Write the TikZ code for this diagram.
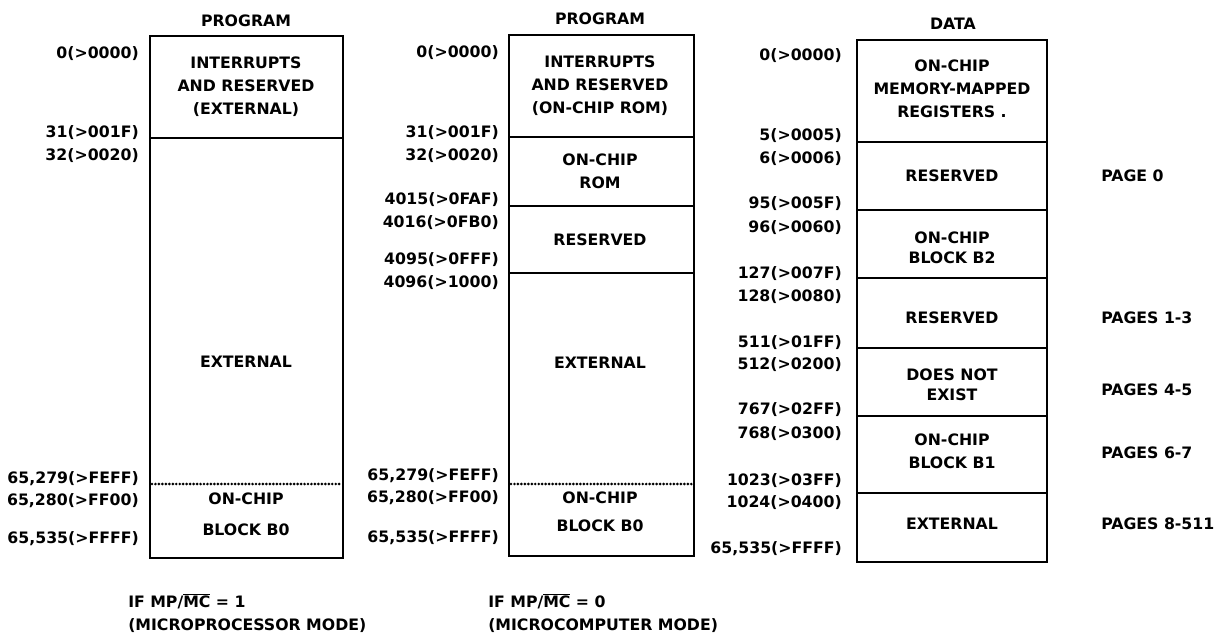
\documentclass[tikz,border=0pt]{standalone}
\usepackage{fontspec}
\setmainfont{DejaVu Sans}
\begin{document}
\begin{tikzpicture}[x=0.75pt,y=-0.75pt,
  lbl/.style={font=\bfseries\fontsize{11.8}{17.2}\selectfont, inner sep=0pt},
  addr/.style={lbl, anchor=east, text height=8.6pt, text depth=0pt},
  page/.style={lbl, anchor=west, text height=8.6pt, text depth=0pt},
  title/.style={lbl, text height=8.6pt, text depth=0pt},
  reg/.style={lbl, align=center},
  membox/.style={line width=2.2pt},
  divider/.style={line width=2.1pt},
  dotline/.style={line width=2.2pt, line cap=round, dash pattern=on 0pt off 2.6pt}]
\useasboundingbox (0,0) rectangle (1223,635);

% ---------------- Column 1 : PROGRAM (microprocessor mode)
\node[title] (t1) at (246,21) {PROGRAM};
\draw[membox] (150,36) rectangle (343,558);
\draw[divider] (150,138) -- (343,138);
\draw[dotline] (152,484) -- (341,484);
\node[addr] (a1a) at (139,53)  {0(>0000)};
\node[addr] (a1b) at (139,132) {31(>001F)};
\node[addr] (a1c) at (139,155) {32(>0020)};
\node[addr] (a1d) at (139,478) {65,279(>FEFF)};
\node[addr] (a1e) at (139,500) {65,280(>FF00)};
\node[addr] (a1f) at (139,538) {65,535(>FFFF)};
\node[reg] (r1a) at (246,87)  {INTERRUPTS\\AND RESERVED\\(EXTERNAL)};
\node[reg] (r1b) at (246,362) {EXTERNAL};
\node[reg] (r1c) at (246,514) {ON-CHIP\\[6pt]BLOCK B0};
\node[lbl, anchor=west, align=left] (f1) at (128,613)
  {IF MP/$\overline{\hbox{MC}}$ = 1\\(MICROPROCESSOR MODE)};

% ---------------- Column 2 : PROGRAM (microcomputer mode)
\node[title] (t2) at (600,19) {PROGRAM};
\draw[membox] (509,35) rectangle (694,556);
\draw[divider] (509,137) -- (694,137);
\draw[divider] (509,206) -- (694,206);
\draw[divider] (509,273) -- (694,273);
\draw[dotline] (511,484) -- (692,484);
\node[addr] (a2a) at (499,52)  {0(>0000)};
\node[addr] (a2b) at (499,132) {31(>001F)};
\node[addr] (a2c) at (499,155) {32(>0020)};
\node[addr] (a2d) at (499,199) {4015(>0FAF)};
\node[addr] (a2e) at (499,222) {4016(>0FB0)};
\node[addr] (a2f) at (499,259) {4095(>0FFF)};
\node[addr] (a2g) at (499,282) {4096(>1000)};
\node[addr] (a2h) at (499,475) {65,279(>FEFF)};
\node[addr] (a2i) at (499,497) {65,280(>FF00)};
\node[addr] (a2j) at (499,537) {65,535(>FFFF)};
\node[reg] (r2a) at (600,86)  {INTERRUPTS\\AND RESERVED\\(ON-CHIP ROM)};
\node[reg] (r2b) at (600,171) {ON-CHIP\\ROM};
\node[reg] (r2c) at (600,240) {RESERVED};
\node[reg] (r2d) at (600,363) {EXTERNAL};
\node[reg] (r2e) at (600,512) {ON-CHIP\\[4pt]BLOCK B0};
\node[lbl, anchor=west, align=left] (f2) at (488,613)
  {IF MP/$\overline{\hbox{MC}}$ = 0\\(MICROCOMPUTER MODE)};

% ---------------- Column 3 : DATA
\node[title] (t3) at (953,24) {DATA};
\draw[membox] (857,40) rectangle (1047,562);
\foreach \yy in {142,210,278,348,416,493}
  \draw[divider] (857,\yy) -- (1047,\yy);
\node[addr] (a3a) at (842,55)  {0(>0000)};
\node[addr] (a3b) at (842,135) {5(>0005)};
\node[addr] (a3c) at (842,158) {6(>0006)};
\node[addr] (a3d) at (842,203) {95(>005F)};
\node[addr] (a3e) at (842,227) {96(>0060)};
\node[addr] (a3f) at (842,273) {127(>007F)};
\node[addr] (a3g) at (842,296) {128(>0080)};
\node[addr] (a3h) at (842,342) {511(>01FF)};
\node[addr] (a3i) at (842,364) {512(>0200)};
\node[addr] (a3j) at (842,409) {767(>02FF)};
\node[addr] (a3k) at (842,433) {768(>0300)};
\node[addr] (a3l) at (842,480) {1023(>03FF)};
\node[addr] (a3m) at (842,502) {1024(>0400)};
\node[addr] (a3n) at (842,548) {65,535(>FFFF)};
\node[reg] (r3a) at (952,89)  {ON-CHIP\\MEMORY-MAPPED\\REGISTERS .};
\node[reg] (r3b) at (952,176) {RESERVED};
\node[reg] (r3c) at (952,248) {ON-CHIP\\[-2pt]BLOCK B2};
\node[reg] (r3d) at (952,318) {RESERVED};
\node[reg] (r3e) at (952,385) {DOES NOT\\[-2pt]EXIST};
\node[reg] (r3f) at (952,451) {ON-CHIP\\BLOCK B1};
\node[reg] (r3g) at (952,524) {EXTERNAL};
\node[page] (p0) at (1101,176) {PAGE 0};
\node[page] (p1) at (1101,318) {PAGES 1-3};
\node[page] (p2) at (1101,390) {PAGES 4-5};
\node[page] (p3) at (1101,453) {PAGES 6-7};
\node[page] (p4) at (1101,524) {PAGES 8-511};
\end{tikzpicture}
\end{document}
